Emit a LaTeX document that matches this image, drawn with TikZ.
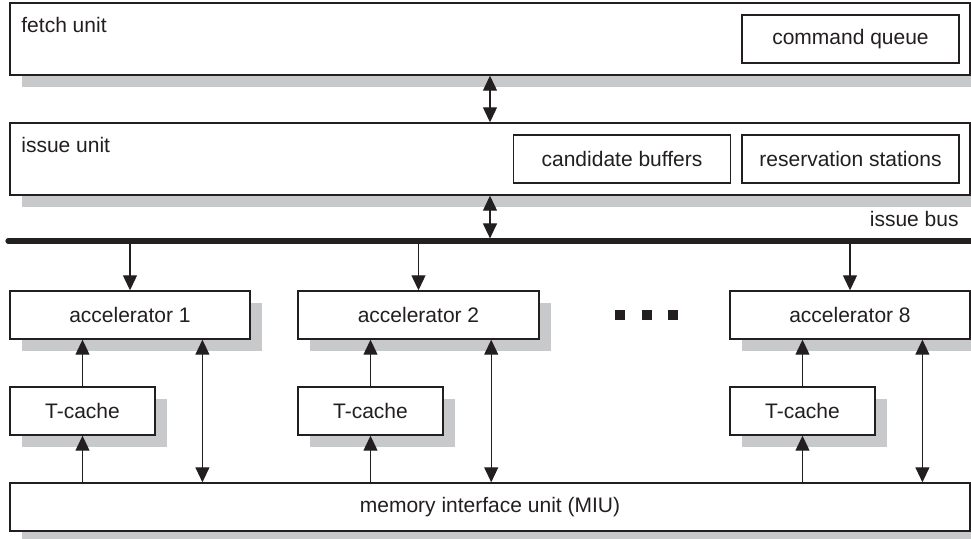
\documentclass[tikz,border=0pt]{standalone}
\usepackage{fontspec}
\setmainfont{Liberation Sans}
\usetikzlibrary{arrows.meta, positioning, shadows, calc}
\definecolor{shadowGray}{HTML}{C8C9CB}
\definecolor{inkBlack}{HTML}{231F20}
\newcommand{\unitfont}{\fontsize{10.5pt}{12pt}\selectfont}
\tikzset{
  shadowbox/.style={
    draw=inkBlack, line width=0.7pt, fill=white,
    inner sep=0pt, font=\unitfont, text=inkBlack,
    drop shadow={shadow xshift=6pt, shadow yshift=-6pt,
      fill=shadowGray, opacity=1}
  },
  plainbox/.style={
    draw=inkBlack, line width=0.7pt, fill=white,
    inner sep=0pt, font=\unitfont, text=inkBlack,
    minimum width=108.5pt, minimum height=24pt
  },
  unitlabel/.style={font=\unitfont, text=inkBlack, inner sep=0pt},
  arr/.style={-{Triangle[length=7.5pt, width=7pt]}, line width=0.6pt, draw=inkBlack},
  dblarr/.style={{Triangle[length=7.5pt, width=7pt]}-{Triangle[length=7.5pt, width=7pt]},
    line width=0.6pt, draw=inkBlack},
  busline/.style={line width=2.6pt, line cap=round, draw=inkBlack}
}

\begin{document}
\begin{tikzpicture}[
  x=0.5pt, y=-0.5pt,
  bigunit/.style={shadowbox, minimum width=480pt, minimum height=36pt},
  miubox/.style={shadowbox, minimum width=480pt, minimum height=24pt},
  accbox/.style={shadowbox, minimum width=120pt, minimum height=24pt},
  cachebox/.style={shadowbox, minimum width=72.5pt, minimum height=24pt},
  dotsq/.style={fill=inkBlack, minimum size=5pt, inner sep=0pt}
]
\useasboundingbox (0,0) rectangle (971,539);

% Fetch unit
\node[bigunit] (fetch) at (490,39) {};
\node[unitlabel, anchor=base west] (fetchlbl) at (21,33) {fetch unit};
\node[plainbox] (cmdq) at (850.5,39) {command queue};

% Issue unit
\node[bigunit] (issue) at (490,159) {};
\node[unitlabel, anchor=base west] (issuelbl) at (21,153) {issue unit};
\node[plainbox] (candbuf) at (622,159) {candidate buffers};
\node[plainbox] (resstat) at (850.5,159) {reservation stations};

% Issue bus
\coordinate (busL) at (8,241);
\coordinate (busR) at (971,241);
\draw[busline] (busL) -- (busR);
\node[unitlabel, anchor=east] (buslbl) at (959,219) {issue bus};

% Accelerators
\node[accbox] (acc1) at (130,315) {accelerator 1};
\node[accbox, minimum width=120.5pt] (acc2) at (418.5,315) {accelerator 2};
\node[accbox] (acc8) at (850,315) {accelerator 8};
\foreach \x [count=\i] in {620,647,673}
  \node[dotsq] (dot\i) at (\x,315) {};

% T-caches
\foreach \n/\x in {1/82.5, 2/370.5, 8/802.5}
  \node[cachebox] (tc\n) at (\x,411) {T-cache};

% Memory interface unit
\node[miubox] (miu) at (490,507) {memory interface unit (MIU)};

% Connections
\draw[dblarr] (fetch.south) -- (issue.north);
\draw[dblarr, shorten >=1.3pt] (issue.south) -- (issue.south |- busL);
\foreach \n in {1,2,8} {
  \coordinate (mc\n) at ($(acc\n.south west)!0.8!(acc\n.south east)$);
  \draw[arr, shorten <=1.3pt] (acc\n.north |- busL) -- (acc\n.north);
  \draw[arr] (tc\n.north) -- (tc\n.north |- acc\n.south);
  \draw[arr] (tc\n.south |- miu.north) -- (tc\n.south);
  \draw[dblarr] (mc\n) -- (mc\n |- miu.north);
}

\end{tikzpicture}
\end{document}
